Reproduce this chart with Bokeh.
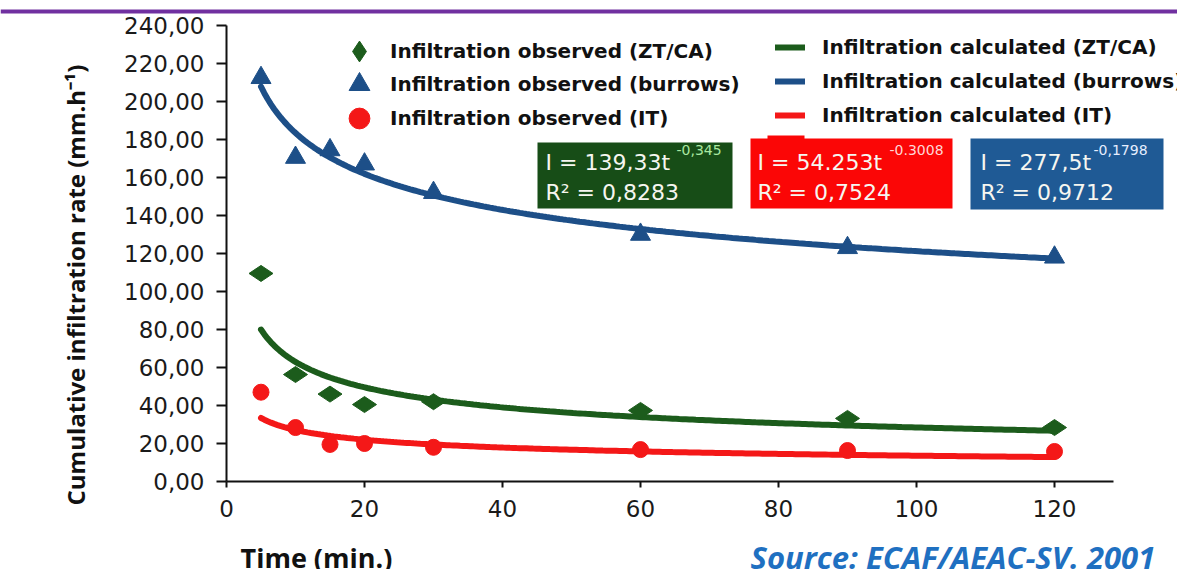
import numpy as np
from bokeh.plotting import figure
from bokeh.layouts import column, row
from bokeh.models import Range1d, FixedTicker, Legend, LegendItem, Label, BoxAnnotation
from bokeh.embed import file_html
from bokeh.resources import INLINE

# ---------------- data ----------------
time_min = [5, 10, 15, 20, 30, 60, 90, 120]
obs_ztca = [109.5, 56.3, 46.0, 40.5, 42.0, 37.4, 33.2, 28.4]
obs_burrows = [212.5, 170.5, 174.5, 167.0, 152.0, 130.0, 123.0, 118.0]
obs_it = [47.0, 28.4, 19.5, 20.0, 18.0, 16.8, 16.3, 15.8]

# fitted power laws I = a * t^b  (as printed on the chart)
fit_names = ["ZT/CA", "IT", "burrows"]
fit_a = [139.33, 54.253, 277.5]
fit_b = [-0.345, -0.3008, -0.1798]
fit_a_text = ["139,33", "54.253", "277,5"]
fit_b_text = ["-0,345", "-0.3008", "-0,1798"]
fit_r2_text = ["0,8283", "0,7524", "0,9712"]
fit_t_start = 5
fit_t_end = 120

x_ticks = [0, 20, 40, 60, 80, 100, 120]
y_ticks = [0, 20, 40, 60, 80, 100, 120, 140, 160, 180, 200, 220, 240]
y_tick_labels = ["0,00", "20,00", "40,00", "60,00", "80,00", "100,00", "120,00",
                 "140,00", "160,00", "180,00", "200,00", "220,00", "240,00"]

legend_obs = ["Infiltration observed (ZT/CA)", "Infiltration observed (burrows)",
              "Infiltration observed (IT)"]
legend_calc = ["Infiltration calculated (ZT/CA)", "Infiltration calculated (burrows)",
               "Infiltration calculated (IT)"]

y_title = "Cumulative infiltration rate (mm.h\u207b\u00b9)"
x_title = "Time (min.)"
source_text = "Source: ECAF/AEAC-SV. 2001"

# ---------------- styles ----------------
GREEN = "#1c5c1c"
BLUE = "#1d4f88"
RED = "#f41818"
BOX_GREEN = "#174d17"
BOX_RED = "#fb0606"
BOX_BLUE = "#1f5a95"
PURPLE = "#7030a0"

PAGE_W, PAGE_H = 1177, 569
TOP_H = 14          # strip with purple rule
BOT_H = 23          # strip with bottom captions
LEFT_W = 110        # strip with y title
MAIN_W = PAGE_W - LEFT_W
MAIN_H = PAGE_H - TOP_H - BOT_H
FRAME_L_PAGE, FRAME_T_PAGE, FRAME_B_PAGE = 226, 25, 481
PX_X = 6.9

def strip(w, h):
    f = figure(width=w, height=h, output_backend="svg", toolbar_location=None,
               x_range=Range1d(0, w), y_range=Range1d(0, h),
               x_axis_type=None, y_axis_type=None, min_border=0,
               outline_line_color=None, frame_align=False)
    f.grid.visible = False
    return f

# ---------- main figure ----------
bl = FRAME_L_PAGE - LEFT_W
bt = FRAME_T_PAGE - TOP_H
bb = (TOP_H + MAIN_H) - FRAME_B_PAGE
x_end = (MAIN_W - bl) / PX_X

p = figure(width=MAIN_W, height=MAIN_H, output_backend="svg", toolbar_location=None,
           x_range=Range1d(0, x_end), y_range=Range1d(0, 240),
           min_border_left=bl, min_border_right=0, min_border_top=bt,
           min_border_bottom=bb, outline_line_color=None, frame_align=False)
p.grid.visible = False

def sx(x):
    return x - FRAME_L_PAGE
def sy(y):
    return FRAME_B_PAGE - y

for ax in (p.xaxis[0], p.yaxis[0]):
    ax.axis_line_width = 2
    ax.axis_line_color = "#111111"
    ax.major_tick_line_width = 2
    ax.major_tick_line_color = "#111111"
    ax.major_tick_in = 0
    ax.minor_tick_line_color = None
    ax.major_label_text_font = "DejaVu Sans"
    ax.major_label_text_font_size = "23px"
    ax.major_label_text_color = "#1a1a1a"

p.xaxis.ticker = FixedTicker(ticks=x_ticks)
p.xaxis.bounds = (0, 128.5)
p.xaxis.major_tick_out = 6
p.xaxis.major_label_standoff = 12

p.yaxis.ticker = FixedTicker(ticks=y_ticks)
p.yaxis.major_label_overrides = {t: l for t, l in zip(y_ticks, y_tick_labels)}
p.yaxis.major_tick_out = 10
p.yaxis.major_label_standoff = 12

def box(fig, l, r, t, b, color):
    fig.add_layout(BoxAnnotation(left=sx(l), right=sx(r), top=sy(t), bottom=sy(b),
                                 left_units="screen", right_units="screen",
                                 top_units="screen", bottom_units="screen",
                                 fill_color=color, fill_alpha=1, line_color=None,
                                 level="underlay"))

def label(fig, x, y, text, size, color, font="DejaVu Sans", style="normal", **kw):
    kw.setdefault("text_baseline", "middle")
    fig.add_layout(Label(x=x, y=y, x_units="screen", y_units="screen",
                         text=text, text_font=font, text_font_size=size,
                         text_font_style=style, text_color=color, **kw))

# equation boxes
box(p, 537, 732, 142, 208, BOX_GREEN)
box(p, 767, 804, 135, 142, BOX_RED)
box(p, 750, 952, 138, 208, BOX_RED)
box(p, 970, 1163, 138, 209, BOX_BLUE)

# fitted curves
t_fit = np.linspace(fit_t_start, fit_t_end, 240)
curve_colors = {"ZT/CA": GREEN, "IT": RED, "burrows": BLUE}
curves = {}
for name, a, b in zip(fit_names, fit_a, fit_b):
    curves[name] = p.line(t_fit, a * t_fit ** b, line_width=6,
                          line_color=curve_colors[name], line_cap="round")

# observations
r_zt = p.scatter(time_min, obs_ztca, marker="diamond", size=24, angle=np.pi / 2,
                 fill_color=GREEN, line_color=GREEN)
r_bu = p.scatter(time_min, obs_burrows, marker="triangle", size=20,
                 fill_color=BLUE, line_color=BLUE)
r_it = p.scatter(time_min, obs_it, marker="circle", size=16,
                 fill_color=RED, line_color=RED)

# legends
leg_common = dict(padding=0, margin=0, background_fill_alpha=0, border_line_color=None,
                  label_text_font="DejaVu Sans", label_text_font_style="bold",
                  label_text_font_size="20px", label_text_color="#111111")
obs_rows = [50.5, 84.0, 117.5]
for lab, rend, cy in zip(legend_obs, [r_zt, r_bu, r_it], obs_rows):
    p.add_layout(Legend(items=[LegendItem(label=lab, renderers=[rend])],
                        location=(sx(333), sy(cy + 26)), glyph_width=52, glyph_height=52,
                        label_standoff=5, **leg_common))
p.add_layout(Legend(items=[LegendItem(label=legend_calc[0], renderers=[curves["ZT/CA"]]),
                           LegendItem(label=legend_calc[1], renderers=[curves["burrows"]]),
                           LegendItem(label=legend_calc[2], renderers=[curves["IT"]])],
                    location=(sx(775), sy(131.5)), glyph_width=30, glyph_height=34,
                    label_height=34, spacing=0, label_standoff=17, **leg_common))

# equation texts (y = vertical centre of the text line)
box_x = [545, 757, 980]
exp_x = [676, 889, 1093]
exp_colors = ["#a9e8a0", "#ffd6d6", "#e6eeff"]
TXT = "#f6f6f0"
for i in range(3):
    label(p, sx(box_x[i]), sy(162), "I = " + fit_a_text[i] + "t", "22px", TXT)
    label(p, sx(exp_x[i]), sy(149), fit_b_text[i], "14px", exp_colors[i])
    label(p, sx(box_x[i]), sy(192), "R\u00b2 = " + fit_r2_text[i], "22px", TXT)

# ---------- top strip: purple rule ----------
top = strip(PAGE_W, TOP_H)
top.add_layout(BoxAnnotation(top=TOP_H - 9, bottom=TOP_H - 13, fill_color=PURPLE,
                             fill_alpha=1, line_color=None))

# ---------- left strip: y title (reads bottom to top, starts at page y 505) ----------
left = strip(LEFT_W, MAIN_H)
label(left, 75, (TOP_H + MAIN_H) - 505, y_title, "24px", "#111111", font="Open Sans",
      style="bold", angle=np.pi / 2, text_align="left")

# ---------- bottom strip: captions ----------
bot = strip(PAGE_W, BOT_H)
label(bot, 240, PAGE_H - 557, x_title, "27px", "#111111", font="Open Sans", style="bold")
label(bot, 750, PAGE_H - 556, source_text, "31px", "#1f70c1", font="Open Sans",
      style="bold italic")

layout = column(top, row(left, p), bot)
open("out.html", "w").write(file_html(layout, INLINE))
